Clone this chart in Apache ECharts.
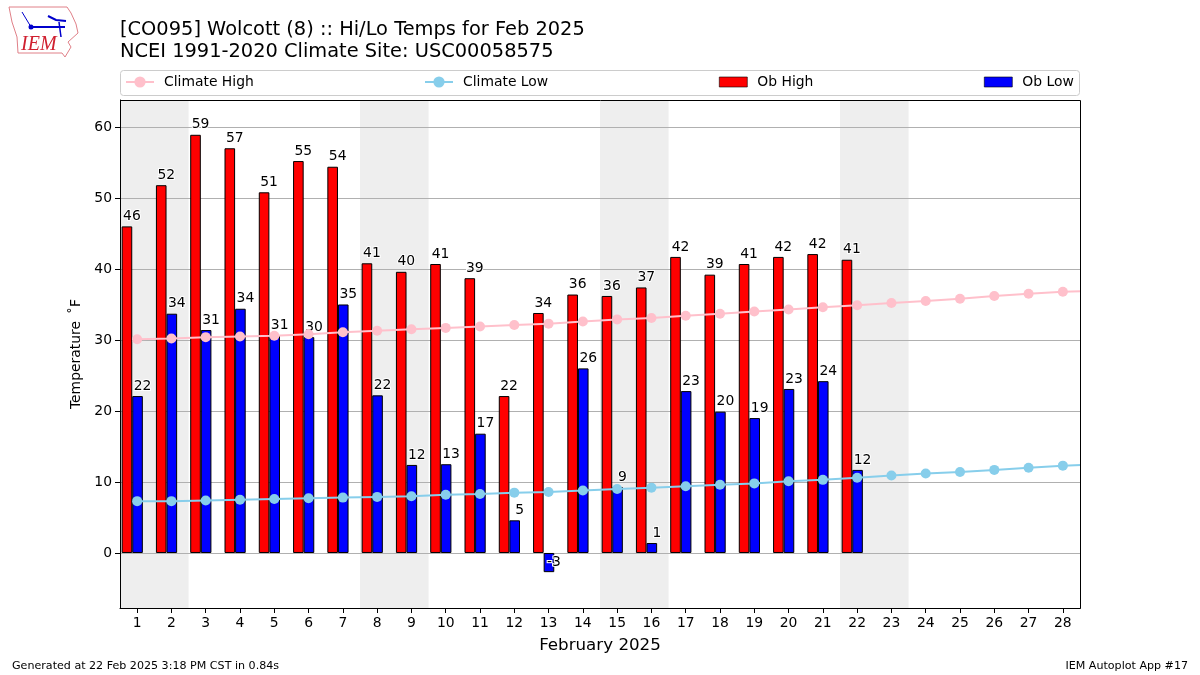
<!DOCTYPE html>
<html><head><meta charset="utf-8">
<script src="https://cdn.jsdelivr.net/npm/echarts@6/dist/echarts.min.js"></script>
<style>html,body{margin:0;padding:0;background:#fff}#c{width:1200px;height:675px}</style>
</head><body><div id="c"></div>
<script>
const days = ['1','2','3','4','5','6','7','8','9','10','11','12','13','14','15','16','17','18','19','20','21','22','23','24','25','26','27','28'];
const obHigh = [46.0,51.8,58.9,57.0,50.8,55.2,54.4,40.8,39.6,40.7,38.7,22.1,33.8,36.4,36.2,37.4,41.7,39.2,40.7,41.7,42.1,41.3];
const obLow = [22.1,33.7,31.4,34.4,30.6,30.4,35.0,22.2,12.4,12.5,16.8,4.6,-2.7,26.0,9.3,1.4,22.8,19.9,19.0,23.1,24.2,11.7];
const climateHigh = [30.1,30.2,30.4,30.5,30.6,30.8,31.1,31.3,31.5,31.7,31.9,32.1,32.3,32.6,32.9,33.1,33.4,33.7,34.0,34.3,34.6,34.9,35.2,35.5,35.8,36.2,36.5,36.8,36.95];
const climateLow = [7.3,7.3,7.4,7.5,7.6,7.7,7.8,7.9,8.0,8.2,8.3,8.5,8.6,8.8,9.0,9.2,9.4,9.6,9.8,10.1,10.3,10.6,10.9,11.2,11.4,11.7,12.0,12.3,12.5];
const weekendBands = [[0.5,2.5],[7.5,9.5],[14.5,16.5],[21.5,23.5]];
const yTicks = [0,10,20,30,40,50,60];
const titleLines = '[CO095] Wolcott (8) :: Hi/Lo Temps for Feb 2025\nNCEI 1991-2020 Climate Site: USC00058575';
const font = 'DejaVu Sans';

const barLabel = {show:true, position:'top', distance:3, offset:[5,0], fontFamily:font, fontSize:13.9, color:'#000',
  textBorderColor:'#fff', textBorderWidth:2, formatter:p => String(Math.round(p.value))};
const barData = arr => arr.map(v => v < 0 ? {value:v, label:{position:'insideBottom', distance:3}} : v);
const byDay = arr => arr.map((v,i) => [i+1, v]);
const legendBase = {top:70, itemWidth:28, itemGap:0, textStyle:{fontFamily:font, fontSize:13.9, color:'#000', padding:[0,0,0,5]}, selectedMode:false};
const lineS = (name,color,data) => ({name, type:'line', xAxisIndex:1, yAxisIndex:0, data:byDay(data), z:5, clip:true,
  symbol:'circle', symbolSize:10, showSymbol:true, lineStyle:{color, width:2}, itemStyle:{color}, animation:false});
const barS = (name,color,data) => ({name, type:'bar', data:barData(data), barWidth:10.6, barGap:0, z:3,
  itemStyle:{color, borderColor:'#000', borderWidth:1, borderJoin:'miter', borderRadius:0}, label:barLabel, animation:false});

const chart = echarts.init(document.getElementById('c'));
chart.setOption({
  animation:false,
  backgroundColor:'#fff',
  title:{text:titleLines, left:115, top:14, textStyle:{fontFamily:font, fontSize:19.4, fontWeight:'normal', color:'#000', lineHeight:22}},
  grid:{left:120, right:120, top:100, bottom:67, show:false},
  legend:[
    Object.assign({}, legendBase, {left:120, itemHeight:14, data:['Climate High']}),
    Object.assign({}, legendBase, {left:419, itemHeight:14, data:['Climate Low']}),
    Object.assign({}, legendBase, {left:714, itemHeight:10, itemStyle:{borderWidth:0.6}, data:[{name:'Ob High', icon:'rect'}]}),
    Object.assign({}, legendBase, {left:979, itemHeight:10, itemStyle:{borderWidth:0.6}, data:[{name:'Ob Low', icon:'rect'}]})
  ],
  xAxis:[
    {type:'category', data:days, boundaryGap:true, position:'bottom',
     name:'February 2025', nameLocation:'middle', nameGap:29, nameTextStyle:{fontFamily:font, fontSize:16.7, color:'#000'},
     axisLine:{show:true, onZero:false, lineStyle:{color:'#000', width:1}},
     axisTick:{show:true, alignWithLabel:true, length:5, lineStyle:{color:'#000'}},
     axisLabel:{interval:0, fontFamily:font, fontSize:13.9, color:'#000', margin:8},
     splitLine:{show:false}},
    {type:'value', min:0.5, max:28.5, show:false, splitLine:{show:false}}
  ],
  yAxis:[{type:'value', min:-7.75, max:63.8, position:'left',
     name:'Temperature\u00a0\u2009\u02daF', nameLocation:'middle', nameGap:36, nameRotate:90,
     nameTextStyle:{fontFamily:font, fontSize:13.9, color:'#000'},
     axisLine:{show:true, onZero:false, lineStyle:{color:'#000', width:1}},
     axisTick:{show:true, length:5, lineStyle:{color:'#000'}, customValues:yTicks},
     axisLabel:{fontFamily:font, fontSize:13.9, color:'#000', margin:8, customValues:yTicks},
     splitLine:{show:true, lineStyle:{color:'#b0b0b0', width:1}}}],
  series:[
    {name:'weekend', type:'line', xAxisIndex:1, data:[], z:-1, silent:true, animation:false,
     markArea:{silent:true, z:-1, itemStyle:{color:'#eeeeee'}, data:weekendBands.map(b => [{xAxis:b[0]},{xAxis:b[1]}])}},
    barS('Ob High','#ff0000',obHigh),
    barS('Ob Low','#0000ff',obLow),
    {name:'spacer', type:'bar', data:[], barWidth:9.8, barGap:0, silent:true, animation:false},
    lineS('Climate High','#ffc0cb',climateHigh),
    lineS('Climate Low','#87ceeb',climateLow)
  ],
  graphic:[
    {type:'rect', z:-10, shape:{x:120.5,y:70.5,width:959,height:25,r:3}, style:{fill:'#fff',stroke:'#cccccc',lineWidth:1}, silent:true},
    {type:'rect', z:100, shape:{x:120.5,y:100.5,width:960,height:508}, style:{fill:'none',stroke:'#000',lineWidth:1}, silent:true},
    {type:'polyline', shape:{points:[[9,7],[67,7],[71,13],[76,24],[78,33],[68,42],[71,47],[65,57],[62,53],[18,53],[17,37],[12,22],[9,7]]}, style:{fill:'none',stroke:'#e08088',lineWidth:1}, silent:true},
    {type:'polyline', shape:{points:[[31,27],[65,27]]}, style:{stroke:'#0000cc',lineWidth:2}, silent:true},
    {type:'polyline', shape:{points:[[22,12],[31,27]]}, style:{stroke:'#0000cc',lineWidth:1}, silent:true},
    {type:'polyline', shape:{points:[[48,16],[56,20],[66,21]]}, style:{stroke:'#0000cc',lineWidth:2}, silent:true},
    {type:'polyline', shape:{points:[[59,22],[61,37]]}, style:{stroke:'#0000cc',lineWidth:1.5}, silent:true},
    {type:'circle', shape:{cx:31,cy:27,r:2.5}, style:{fill:'#0000cc'}, silent:true},
    {type:'text', x:21, y:35, style:{text:'IEM', fontFamily:'Liberation Serif', fontStyle:'italic', fontSize:20, fill:'#d02030'}, silent:true},
    {type:'text', x:12, y:660.5, style:{text:'Generated at 22 Feb 2025 3:18 PM CST in 0.84s', fontFamily:font, fontSize:11.1, fill:'#000'}, silent:true},
    {type:'text', x:1188, y:660.5, style:{text:'IEM Autoplot App #17', align:'right', fontFamily:font, fontSize:11.1, fill:'#000'}, silent:true}
  ]
});
</script></body></html>
